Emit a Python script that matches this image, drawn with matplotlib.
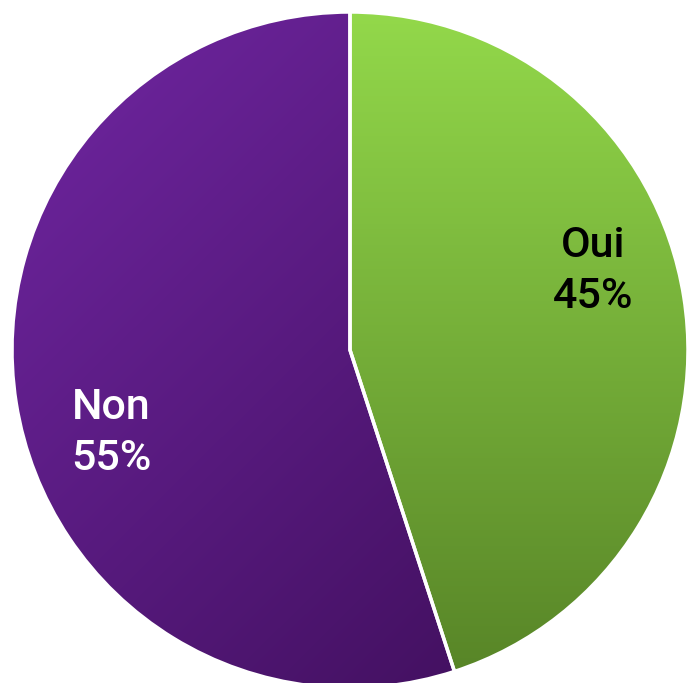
import numpy as np
import matplotlib
matplotlib.use("Agg")
import matplotlib.pyplot as plt
from matplotlib.colors import LinearSegmentedColormap

labels = ["Oui", "Non"]
values = [45, 55]
text_colors = ["black", "white"]

W, H = 688, 683
fig = plt.figure(figsize=(W / 100, H / 100), dpi=100)
ax = fig.add_axes([0, 0, 1, 1])

cx, cy, r = 350, H - 350, 338

wedges, _ = ax.pie(values, startangle=90, counterclock=False, center=(cx, cy),
                   radius=r, frame=True,
                   wedgeprops=dict(edgecolor="white", linewidth=2.5))
ax.set_xlim(0, W)
ax.set_ylim(0, H)
ax.set_aspect("equal")
ax.axis("off")

# gradient fills clipped to each wedge
yy, xx = np.mgrid[0:H, 0:W]
green = LinearSegmentedColormap.from_list("g", ["#578427", "#94da4b"])
purple = LinearSegmentedColormap.from_list("p", ["#6c249c", "#400f5c"])

g_val = yy / H
p_val = ((xx / W) + (1 - yy / H)) / 2
p_val = (p_val - 0.1) / 0.8

for w, cmap, val in zip(wedges, [green, purple], [g_val, p_val]):
    w.set_facecolor("none")
    im = ax.imshow(np.clip(val, 0, 1), cmap=cmap, extent=(0, W, 0, H),
                   origin="lower", vmin=0, vmax=1, zorder=0.5)
    im.set_clip_path(w)
    w.set_zorder(1)

ax.text(593, H - 271, f"{labels[0]}\n{values[0]}%", color=text_colors[0],
        ha="center", va="center", fontsize=31, family="Roboto",
        weight="medium", linespacing=1.3)
ax.text(111, H - 433, f"{labels[1]}\n{values[1]}%", color=text_colors[1],
        ha="center", va="center", fontsize=31, family="Roboto",
        weight="medium", linespacing=1.3)

fig.savefig("out.png", dpi=100)
